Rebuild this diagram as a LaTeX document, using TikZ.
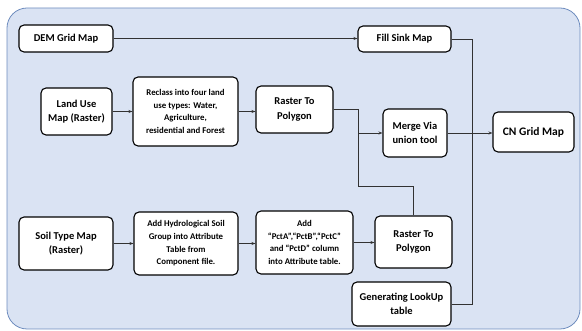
\documentclass[tikz,border=0pt]{standalone}
\usepackage{fontspec}
\setmainfont{Carlito}
\usetikzlibrary{arrows.meta}
\definecolor{bgfill}{RGB}{218,227,243}
\definecolor{bgline}{RGB}{110,140,190}
\definecolor{conn}{RGB}{50,50,50}
\tikzset{
  box/.style={draw=black, fill=white, rounded corners=5pt, line width=1.1pt, align=center, inner sep=1pt, font=\bfseries\fontsize{10.5}{14.5}\selectfont},
  sbox/.style={box, font=\bfseries\fontsize{8.8}{12.6}\selectfont},
  wire/.style={draw=conn, line width=0.8pt},
  arr/.style={wire, -{Stealth[length=4pt,width=3pt]}}
}
\begin{document}
\begin{tikzpicture}[x=1pt,y=-1pt]
\useasboundingbox (0,0) rectangle (582,331);
\draw[fill=bgfill, draw=bgline, line width=0.8pt, rounded corners=20pt] (7,8) rectangle (580,329);

\node[box, minimum width=94pt, minimum height=27pt] (dem) at (66,38.5) {DEM Grid Map};
\node[box, minimum width=93pt, minimum height=26pt] (fill) at (404.5,39) {Fill Sink Map};
\node[box, minimum width=71pt, minimum height=47pt] (land) at (76.5,111.5) {Land Use\\Map (Raster)};
\node[sbox, minimum width=105pt, minimum height=69pt] (recl) at (185.5,111.5) {Reclass into four land\\use types: Water,\\Agriculture,\\residential and Forest};
\node[box, minimum width=77pt, minimum height=47pt] (rtpa) at (294.5,109.5) {Raster To\\Polygon};
\node[box, minimum width=64pt, minimum height=48pt] (merge) at (415,133) {Merge Via\\union tool};
\node[box, minimum width=81pt, minimum height=40pt, font=\bfseries\fontsize{11.5}{14}\selectfont] (cn) at (533.5,132) {CN Grid Map};
\node[box, minimum width=94pt, minimum height=53pt] (soil) at (66,243.5) {Soil Type Map\\(Raster)};
\node[sbox, minimum width=104pt, minimum height=63pt] (hydro) at (186,243.5) {Add Hydrological Soil\\Group into Attribute\\Table from\\Component file.};
\node[sbox, minimum width=97pt, minimum height=63pt] (pct) at (304.5,242.5) {Add\\“PctA”,“PctB”,“PctC”\\and “PctD” column\\into Attribute table.};
\node[box, minimum width=77pt, minimum height=52pt] (rtpb) at (413.5,242) {Raster To\\Polygon};
\node[box, minimum width=99pt, minimum height=44pt] (look) at (401.5,304) {Generating LookUp\\table};

\coordinate (j) at (472,133);
\coordinate (k) at (358,133);
\coordinate (m) at (358,186);

\draw[arr] (dem.east) -- (dem.east -| fill.west);
\draw[wire] (fill.east) -| (j);
\draw[wire] (look.east) -| (j);
\draw[arr] (merge.east) -- (merge.east -| cn.west);
\draw[arr] (land.east) -- (land.east -| recl.west);
\draw[arr] (recl.east) -- (recl.east -| rtpa.west);
\draw[wire] (rtpa.east) -| (k);
\draw[arr] (k) -- (merge.west);
\draw[wire] (rtpb.north) |- (m) -- (k);
\draw[arr] (soil.east) -- (soil.east -| hydro.west);
\draw[arr] (hydro.east) -- (hydro.east -| pct.west);
\draw[arr] (pct.east) -- (pct.east -| rtpb.west);
\end{tikzpicture}
\end{document}
